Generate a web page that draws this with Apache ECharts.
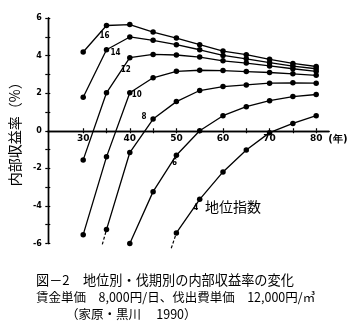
<!DOCTYPE html>
<html><head><meta charset="utf-8">
<script src="https://cdn.jsdelivr.net/npm/echarts@6/dist/echarts.min.js"></script>
<style>html,body{margin:0;padding:0;background:#fff}#c{width:360px;height:335px}</style>
</head><body><div id="c"></div>
<script>
// 伐期（年）
const years = [30, 35, 40, 45, 50, 55, 60, 65, 70, 75, 80];
// 地位指数別の内部収益率（%）
const si16 = [4.19, 5.6, 5.65, 5.25, 4.93, 4.58, 4.24, 4.05, 3.8, 3.58, 3.42];
const si14 = [1.78, 4.31, 4.99, 4.81, 4.58, 4.31, 4.01, 3.83, 3.62, 3.44, 3.3];
const si12 = [-1.55, 2.02, 3.89, 4.06, 4.03, 3.92, 3.72, 3.6, 3.45, 3.3, 3.16];
const si10 = [-5.53, -1.39, 2.02, 2.82, 3.16, 3.22, 3.2, 3.15, 3.1, 3.03, 2.95];
const si8 = [null, -5.26, -1.16, 0.62, 1.55, 2.14, 2.35, 2.44, 2.53, 2.55, 2.53];
const si6 = [null, null, -6.0, -3.24, -1.3, 0, 0.8, 1.28, 1.6, 1.82, 1.93];
const si4 = [null, null, null, null, -5.44, -3.65, -2.19, -1.02, -0.1, 0.39, 0.8];
// 破線で延ばす下端 [年, %]
const ext8 = [34.1, -6.05];
const ext4 = [48.9, -6.25];
const xLabelTicks = [30, 40, 50, 60, 70, 80];
const xMinorTicks = [30, 35, 40, 45, 50, 55, 60, 65, 70, 75, 80];

const chart = echarts.init(document.getElementById('c'));
const numFont = 'DejaVu Sans';

// グリッドの寸法（x軸は 0% の高さに置く）
const gridTop = 18, gridBottom = 91.5, yMin = -6, yMax = 6;
const plotH = 335 - gridTop - gridBottom;
const zeroShift = plotH * (0 - yMin) / (yMax - yMin);

function lineSeries(name, vals, labelIdx, offset) {
  const data = [];
  years.forEach((y, i) => {
    if (vals[i] == null) return;
    const item = { value: [y, vals[i]] };
    if (i === labelIdx) {
      item.label = {
        show: true, formatter: name, position: 'inside', offset: offset,
        fontFamily: 'DejaVu Sans Condensed', fontWeight: 'bold', fontSize: 8, color: '#000'
      };
    }
    data.push(item);
  });
  return {
    type: 'line', name: name, data: data, symbol: 'circle', symbolSize: 5.5,
    lineStyle: { color: '#000', width: 1.3 }, itemStyle: { color: '#000' },
    label: { show: false }, clip: false, silent: true, z: 3
  };
}
function dashSeries(start, vals) {
  const i = vals.findIndex(v => v != null);
  return {
    type: 'line', data: [start, [years[i], vals[i]]], symbol: 'none',
    lineStyle: { color: '#000', width: 1.2, type: [3, 2] }, clip: false, silent: true, z: 2
  };
}

const axisLineStyle = { color: '#000', width: 1.4 };
const yCommon = { type: 'value', min: yMin, max: yMax, interval: 1, position: 'left',
  splitLine: { show: false }, axisLine: { show: true, lineStyle: axisLineStyle } };
const xCommon = { type: 'value', min: 22.4, max: 82.75, position: 'bottom', offset: -zeroShift,
  splitLine: { show: false }, axisLine: { show: true, onZero: false, lineStyle: axisLineStyle } };

chart.setOption({
  animation: false,
  backgroundColor: '#fff',
  grid: { left: 44, right: 31, top: gridTop, bottom: gridBottom, containLabel: false },
  xAxis: [
    Object.assign({}, xCommon, {
      name: '(年)', nameLocation: 'end', nameGap: -9,
      nameTextStyle: { color: '#000', fontFamily: numFont, fontWeight: 'bold', fontSize: 10,
        align: 'left', verticalAlign: 'top', padding: [4, 0, 0, 0] },
      axisTick: { show: true, inside: false, length: 2.5, customValues: xMinorTicks, lineStyle: { color: '#000', width: 1.2 } },
      axisLabel: { show: true, customValues: xLabelTicks, margin: 3, color: '#000',
        fontFamily: numFont, fontWeight: 'bold', fontSize: 9 }
    }),
    Object.assign({}, xCommon, {
      axisTick: { show: true, inside: true, length: 2.5, customValues: xMinorTicks, lineStyle: { color: '#000', width: 1.2 } },
      axisLabel: { show: false }
    })
  ],
  yAxis: [
    Object.assign({}, yCommon, {
      name: '内部収益率（%）', nameLocation: 'middle', nameRotate: 90, nameGap: 20,
      nameTextStyle: { color: '#000', fontFamily: 'Noto Sans CJK JP', fontSize: 14 },
      axisTick: { show: true, inside: false, length: 2.5, lineStyle: { color: '#000', width: 1.2 } },
      axisLabel: { show: true, margin: 6, color: '#000', fontFamily: numFont, fontWeight: 'bold', fontSize: 8,
        formatter: v => (v % 2 === 0 ? String(v) : '') }
    }),
    Object.assign({}, yCommon, {
      axisTick: { show: true, inside: true, length: 2.5, lineStyle: { color: '#000', width: 1.2 } },
      axisLabel: { show: false }
    })
  ],
  series: [
    lineSeries('16', si16, 1, [-2, 10]),
    lineSeries('14', si14, 1, [9, 3]),
    lineSeries('12', si12, 2, [-4, 12]),
    lineSeries('10', si10, 2, [7, 2]),
    lineSeries('8', si8, 3, [-9, -2]),
    lineSeries('6', si6, 4, [-2, 8]),
    lineSeries('4', si4, 5, [-4, 9]),
    dashSeries(ext8, si8),
    dashSeries(ext4, si4)
  ],
  graphic: [
    { type: 'text', left: 205, top: 200,
      style: { text: '地位指数', fill: '#000', font: '14px "Noto Sans CJK JP"' } },
    { type: 'text', left: 36, top: 273,
      style: { text: '図－2　地位別・伐期別の内部収益率の変化', fill: '#000', font: '13.2px "Noto Sans CJK JP"' } },
    { type: 'text', left: 36, top: 291,
      style: { text: '賃金単価　8,000円/日、伐出費単価　12,000円/㎥', fill: '#000', font: '12.5px "Noto Sans CJK JP"' } },
    { type: 'text', left: 66, top: 308,
      style: { text: '（家原・黒川　 1990）', fill: '#000', font: '12.5px "Noto Sans CJK JP"' } }
  ]
});
</script>
</body></html>
